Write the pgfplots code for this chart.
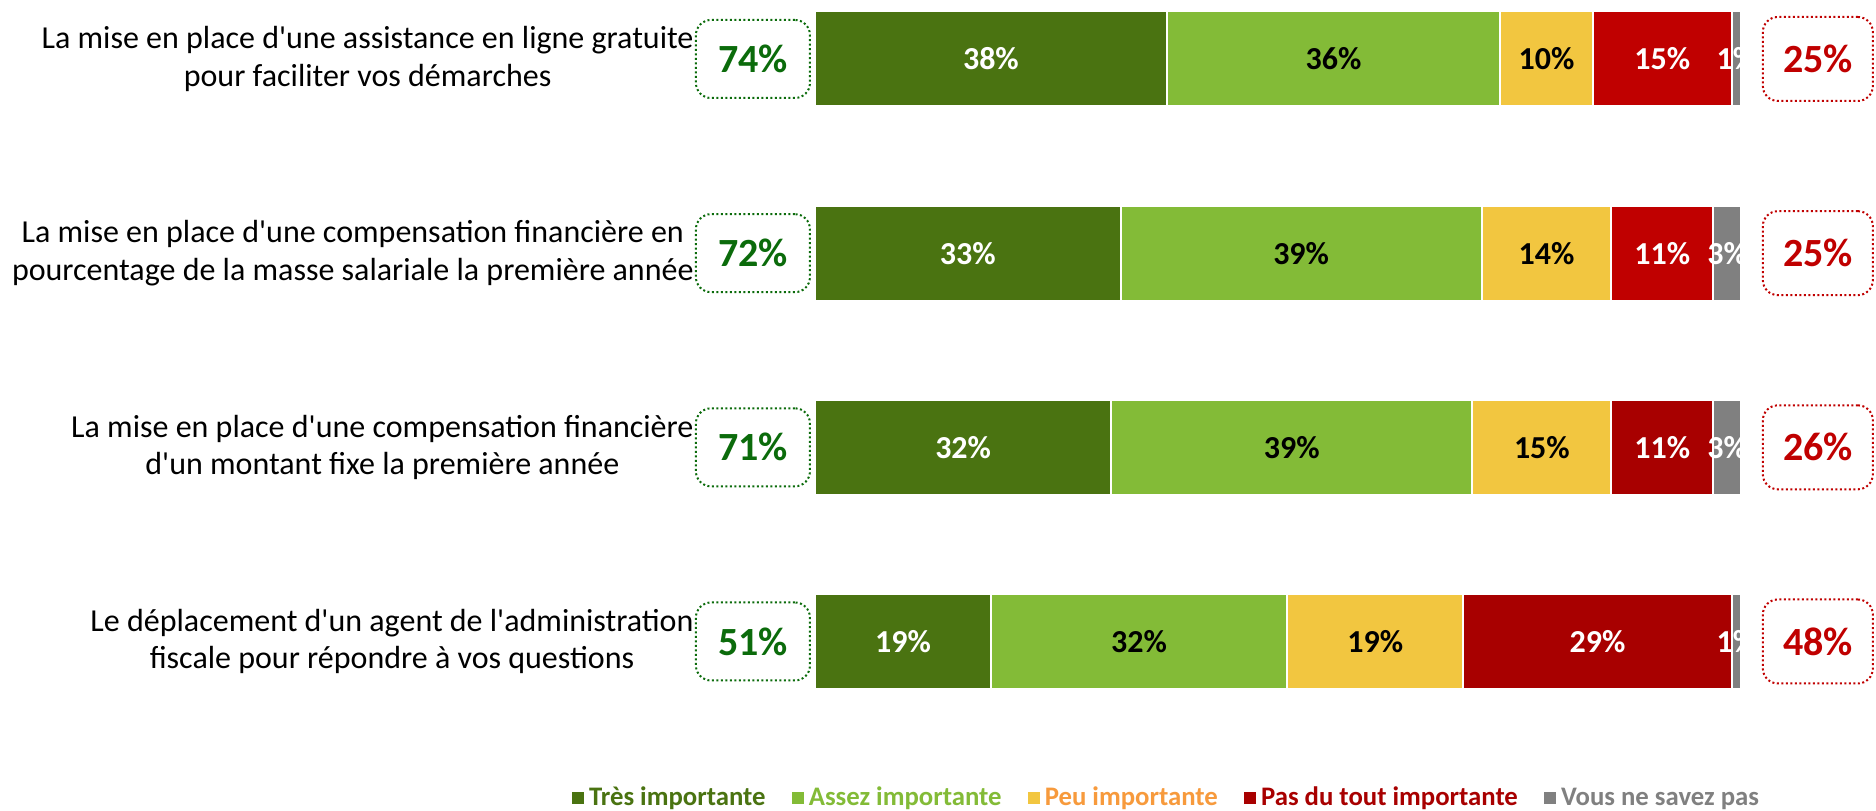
\documentclass[border=0pt]{standalone}
\usepackage{fontspec}
\setmainfont{Carlito}
\usepackage{pgfplots}
\usepackage{pgfplotstable}
\pgfplotsset{compat=1.18}
\definecolor{dkgreen}{HTML}{4A7311}
\definecolor{ltgreen}{HTML}{83BB37}
\definecolor{yel}{HTML}{F2C640}
\definecolor{redA}{HTML}{C00000}
\definecolor{redB}{HTML}{A80000}
\definecolor{gry}{HTML}{808080}
\definecolor{orng}{HTML}{F79A3C}
\definecolor{boxgreen}{HTML}{0B6B0B}
\definecolor{boxred}{HTML}{C00000}
\newcommand\q{\textquotesingle}
\pgfplotstableread{
y tres assez peu pasA pasB nsp
0 38 36 10 15 0 1
1 33 39 14 11 0 3
2 32 39 15 0 11 3
3 19 32 19 0 29 1
}\data
\pgfplotstableread{
y pos neg
0 74 25
1 72 25
2 71 26
3 51 48
}\totals
\begin{document}
\begin{tikzpicture}
\begin{axis}[
  name=ax,
  scale only axis,
  width=370.4pt, height=279.6pt,
  xbar stacked, bar width=38pt,
  xmin=0, xmax=100,
  ymin=-0.3, ymax=3.3,
  y dir=reverse,
  axis line style={draw=none},
  tick style={draw=none},
  xtick=\empty,
  ytick={0,1,2,3},
  yticklabels={
    {La mise en place d\q une assistance en ligne gratuite\\pour faciliter vos démarches},
    {La mise en place d\q une compensation financière en\\pourcentage de la masse salariale la première année},
    {La mise en place d\q une compensation financière\\d\q un montant fixe la première année},
    {Le déplacement d\q un agent de l\q administration\\fiscale pour répondre à vos questions}},
  yticklabel style={align=center, inner sep=0pt, xshift=-48.4pt,
    font=\fontsize{12.8}{15}\selectfont},
  clip=false,
  visualization depends on={rawx \as \rawx},
  nodes near coords={\ifdim\rawx pt>0.5pt \pgfmathprintnumber[assume math mode=true, fixed, precision=0]{\rawx}\%\fi},
  every node near coord/.append style={anchor=center,
    font=\bfseries\fontsize{12.8}{14}\selectfont},
  legend image code/.code={\fill[#1] (0pt,-2.8pt) rectangle (5.6pt,2.8pt);},
  legend style={draw=none, at={(0.378,-0.141)}, anchor=center,
    legend columns=-1, font=\bfseries\fontsize{10.7}{12}\selectfont,
    nodes={inner sep=0.5pt},
    /tikz/every odd column/.append style={column sep=0.8pt},
    /tikz/every even column/.append style={column sep=9.1pt},
    inner sep=0pt},
]
\addplot[fill=dkgreen, draw=white, line width=0.8pt,
  every node near coord/.append style={text=white}] table[x=tres,y=y]{\data};
\addplot[fill=ltgreen, draw=white, line width=0.8pt,
  every node near coord/.append style={text=black}] table[x=assez,y=y]{\data};
\addplot[fill=yel, draw=white, line width=0.8pt,
  every node near coord/.append style={text=black}] table[x=peu,y=y]{\data};
\addplot[fill=redA, draw=white, line width=0.8pt,
  every node near coord/.append style={text=white}] table[x=pasA,y=y]{\data};
\addplot[fill=redB, draw=white, line width=0.8pt,
  every node near coord/.append style={text=white}] table[x=pasB,y=y]{\data};
\addplot[fill=gry, draw=white, line width=0.8pt,
  every node near coord/.append style={text=white}] table[x=nsp,y=y]{\data};
\legend{\textcolor{dkgreen}{Très importante},
  \textcolor{ltgreen}{Assez importante},
  \textcolor{orng}{Peu importante},,
  \textcolor{redB}{Pas du tout importante},
  \textcolor{gry}{Vous ne savez pas}}
\end{axis}
\begin{axis}[
  at={(ax.south west)}, anchor=south west,
  scale only axis,
  width=370.4pt, height=279.6pt,
  xmin=0, xmax=100,
  ymin=-0.3, ymax=3.3,
  y dir=reverse,
  hide axis, clip=false,
]
\addplot[only marks, mark=text, text mark={},
  point meta=explicit symbolic, nodes near coords={\pgfplotspointmeta\%},
  every node near coord/.append style={anchor=center, draw=boxgreen, densely dotted,
    line width=0.8pt, rounded corners=6pt, minimum width=45.6pt, minimum height=31.2pt,
    text=boxgreen, font=\bfseries\fontsize{16}{18}\selectfont}]
  table[x expr=-6.7, y=y, meta=pos]{\totals};
\addplot[only marks, mark=text, text mark={},
  point meta=explicit symbolic, nodes near coords={\pgfplotspointmeta\%},
  every node near coord/.append style={anchor=center, draw=boxred, densely dotted,
    line width=0.8pt, rounded corners=6pt, minimum width=44pt, minimum height=33.6pt,
    text=boxred, font=\bfseries\fontsize{16}{18}\selectfont}]
  table[x expr=108.3, y=y, meta=neg]{\totals};
\end{axis}
\pgfresetboundingbox
\path[use as bounding box] ([xshift=-326pt,yshift=-44.4pt]ax.south west) rectangle ([xshift=54pt,yshift=0.3pt]ax.north east);
\end{tikzpicture}
\end{document}
